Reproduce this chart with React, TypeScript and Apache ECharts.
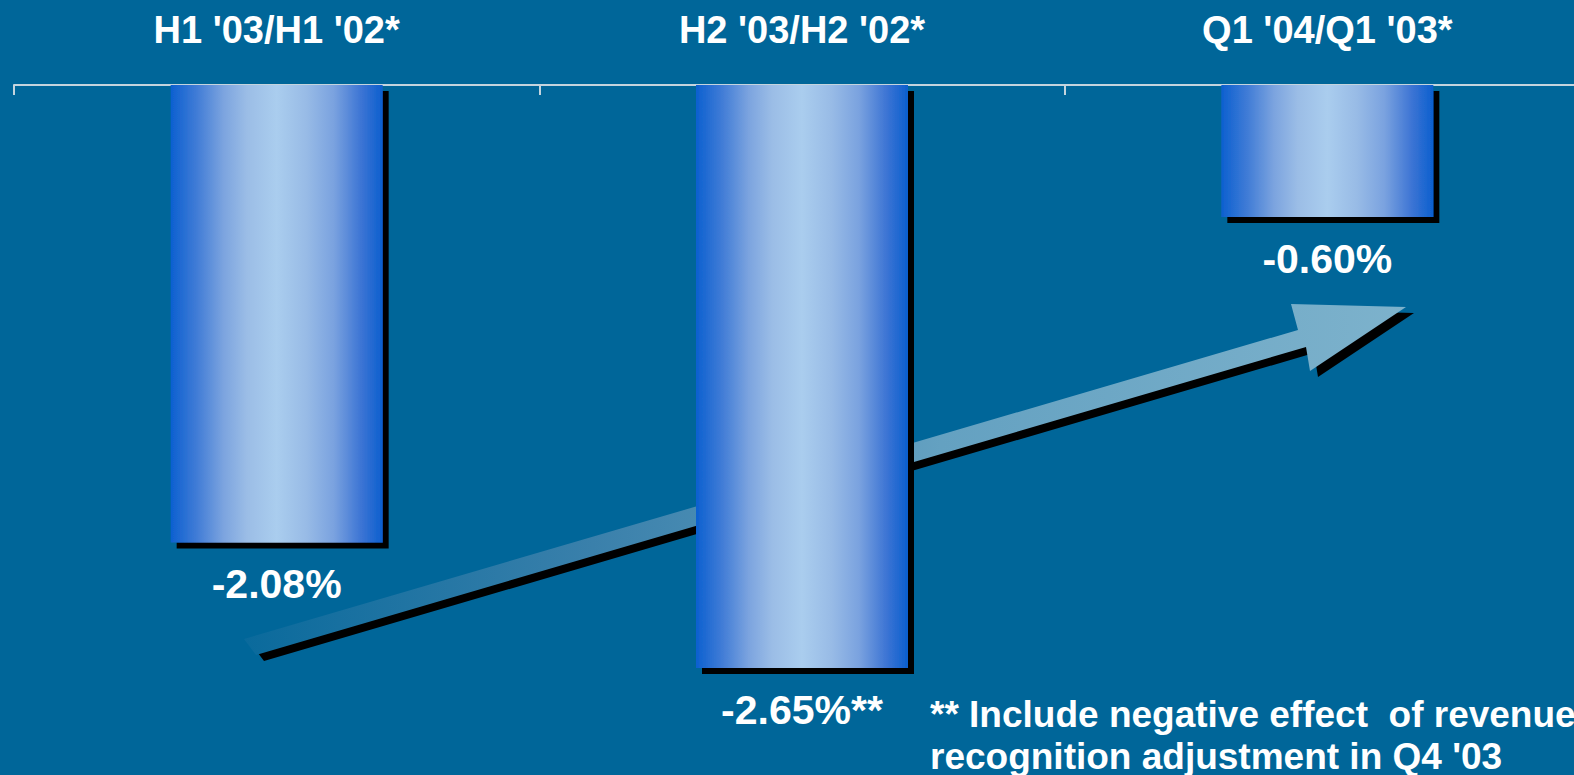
import { useEffect, useRef } from 'react';
import * as echarts from 'echarts';

// Year-on-year change per period
const periods = ["H1 '03/H1 '02*", "H2 '03/H2 '02*", "Q1 '04/Q1 '03*"];
const growth = [-2.08, -2.65, -0.6];
const labelSuffix = ['', '**', ''];
const footnoteLines = ['** Include negative effect  of revenue', "recognition adjustment in Q4 '03"];

const BG = '#006699';
const FONT = '"Liberation Sans", Arial, sans-serif';

// Trend arrow outline (tail -> head), drawn behind the bars
const arrowPoints: number[][] = [
  [256, 655],
  [1306, 347],
  [1310, 371],
  [1406, 307],
  [1291, 304],
  [1298, 330],
  [244, 639],
];

export default function App() {
  const ref = useRef<HTMLDivElement>(null);

  useEffect(() => {
    if (!ref.current) return;
    const chart = echarts.init(ref.current, null, { renderer: 'svg' });

    const barFill = new echarts.graphic.LinearGradient(0, 0, 1, 0, [
      { offset: 0, color: '#0c60d0' },
      { offset: 0.12, color: '#3f7bd6' },
      { offset: 0.25, color: '#7ca4df' },
      { offset: 0.36, color: '#9bbde6' },
      { offset: 0.5, color: '#aacdee' },
      { offset: 0.64, color: '#98bbe6' },
      { offset: 0.77, color: '#7aa2df' },
      { offset: 0.9, color: '#3c74d4' },
      { offset: 1, color: '#0b5fce' },
    ]);

    const arrowFill = new echarts.graphic.LinearGradient(0, 0, 1, 0, [
      { offset: 0, color: '#0a6a9c' },
      { offset: 0.3, color: '#3a80ab' },
      { offset: 0.6, color: '#64a1c1' },
      { offset: 1, color: '#7db2cc' },
    ]);

    const shadow = arrowPoints.map(([x, y]) => [x + 8, y + 6]);

    chart.setOption({
      animation: false,
      backgroundColor: BG,
      grid: { left: 14, top: 85, width: 1576, height: 660 },
      xAxis: {
        type: 'category',
        position: 'top',
        data: periods,
        boundaryGap: true,
        axisLine: { show: true, lineStyle: { color: '#c4d4de', width: 2 } },
        axisTick: { show: true, inside: true, length: 10, lineStyle: { color: '#c4d4de', width: 2 } },
        axisLabel: {
          color: '#ffffff',
          fontSize: 38,
          fontWeight: 'bold',
          fontFamily: FONT,
          margin: 36,
          interval: 0,
        },
        splitLine: { show: false },
      },
      yAxis: {
        type: 'value',
        min: -3,
        max: 0,
        show: false,
        splitLine: { show: false },
      },
      graphic: [
        {
          type: 'polygon',
          z: 0,
          silent: true,
          shape: { points: shadow },
          style: { fill: '#000000' },
        },
        {
          type: 'polygon',
          z: 1,
          silent: true,
          shape: { points: arrowPoints },
          style: { fill: arrowFill },
        },
        ...footnoteLines.map((line, i) => ({
          type: 'text',
          z: 100,
          silent: true,
          x: 930,
          y: 714 + i * 42,
          style: {
            text: line,
            fill: '#ffffff',
            font: `bold 37px ${FONT}`,
            verticalAlign: 'middle',
            align: 'left',
          },
        })),
      ],
      series: [
        {
          type: 'bar',
          z: 5,
          data: growth,
          barWidth: 212,
          itemStyle: {
            color: barFill,
            shadowColor: '#000000',
            shadowOffsetX: 6,
            shadowOffsetY: 6,
            shadowBlur: 0,
          },
          label: {
            show: true,
            position: 'bottom',
            distance: 21,
            color: '#ffffff',
            fontSize: 41,
            fontWeight: 'bold',
            fontFamily: FONT,
            formatter: (p: any) => `${p.value.toFixed(2)}%${labelSuffix[p.dataIndex]}`,
          },
        },
      ],
    });

    return () => chart.dispose();
  }, []);

  return (
    <div style={{ position: 'fixed', left: 0, top: 0, width: 1574, height: 775, overflow: 'hidden', background: BG }}>
      <div ref={ref} style={{ width: 1600, height: 775 }} />
    </div>
  );
}
